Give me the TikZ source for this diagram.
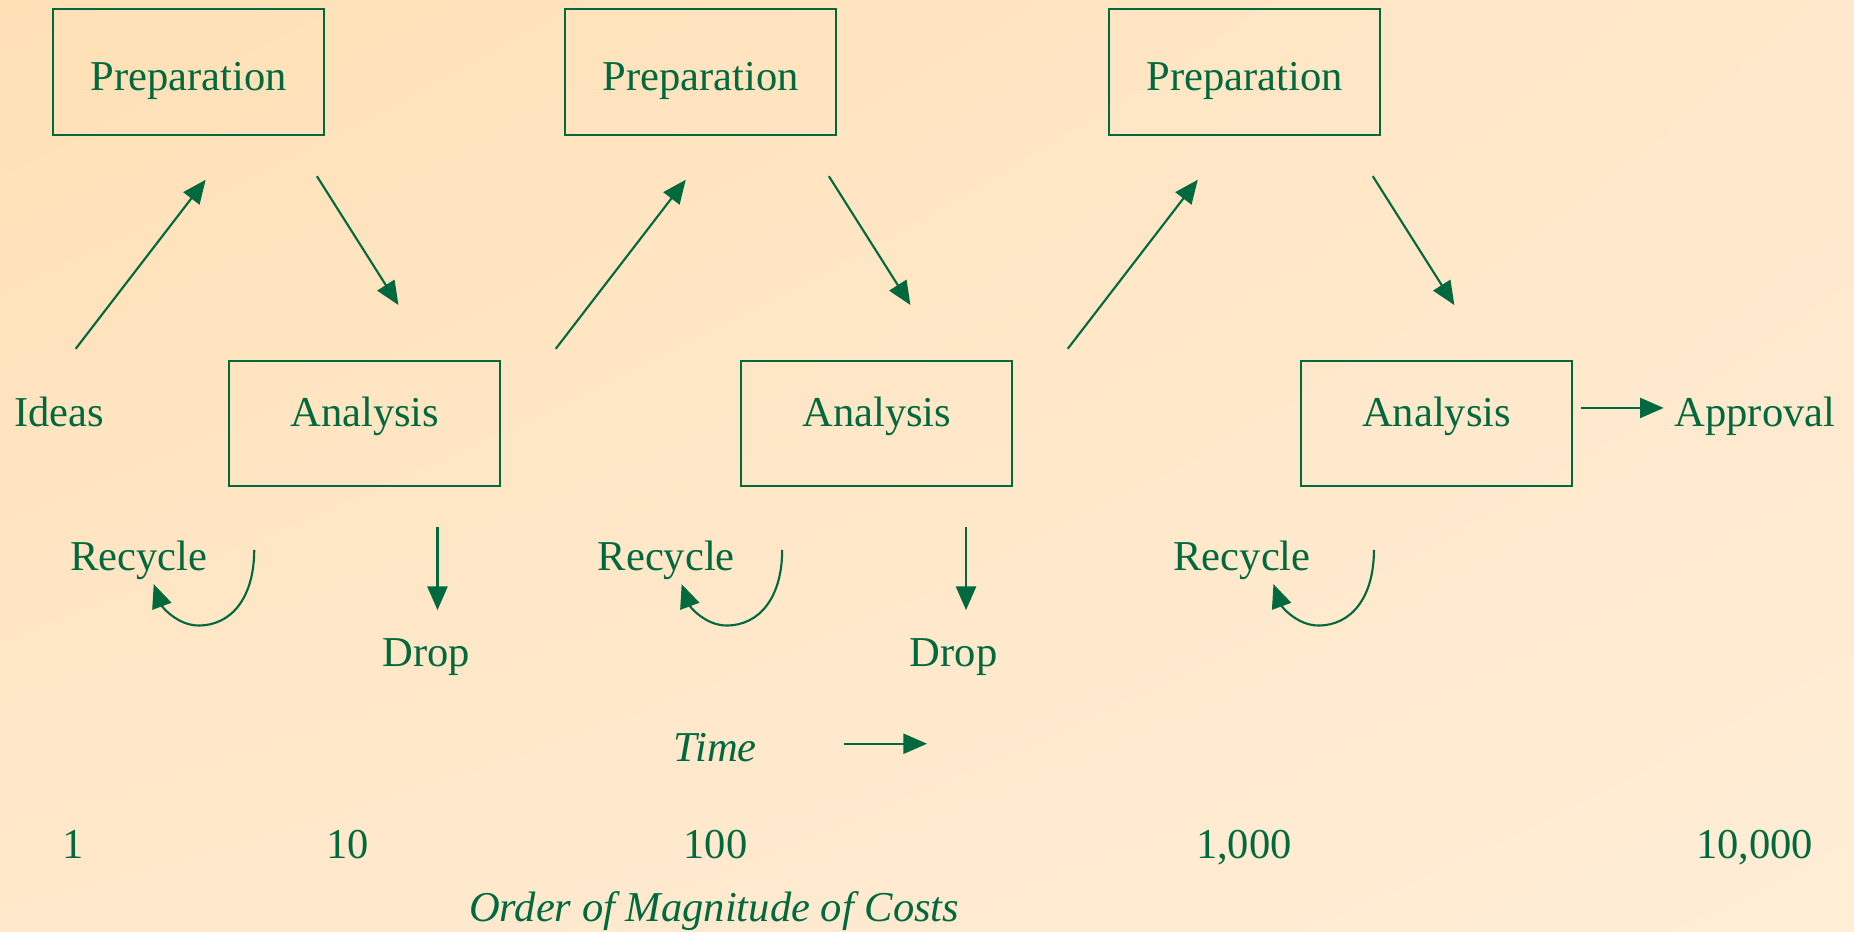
\documentclass[tikz,border=0pt]{standalone}
\usepackage{fontspec}
\setmainfont{Liberation Serif}
\usetikzlibrary{arrows.meta,shadings}
\definecolor{dg}{HTML}{00693E}
\definecolor{bgA}{HTML}{FFE0B5}
\definecolor{bgB}{HTML}{FFEDD6}
\definecolor{bgC}{HTML}{FFE8CB}
\begin{document}
\begin{tikzpicture}[x=1pt,y=-1pt,
  lbl/.style={text=dg, font=\fontsize{36}{40}\selectfont, inner sep=0pt, anchor=base},
  ilbl/.style={lbl, font=\fontsize{36}{40}\selectfont\itshape},
  boxbase/.style={draw=dg, line width=1.7pt, minimum width=229pt, minimum height=106pt, inner sep=0pt, text=dg, font=\fontsize{36}{40}\selectfont},
  prepbox/.style={boxbase, text height=31.4pt, text depth=0pt},
  anbox/.style={boxbase, text height=26pt, text depth=20pt},
  arr/.style={draw=dg, line width=1.8pt, -{Triangle[length=20pt,width=17pt]}},
]
\shade[upper left=bgA, lower right=bgB, upper right=bgC, lower left=bgC] (0pt,0pt) rectangle (1568pt,-788pt);
\useasboundingbox (0pt,0pt) rectangle (1568pt,-788pt);

% boxes
\node[prepbox] (p1) at (159.5,61) {Preparation};
\node[prepbox] (p2) at (592.5,61) {Preparation};
\node[prepbox] (p3) at (1052.5,61) {Preparation};
\node[anbox] (a1) at (308.5,358) {Analysis};
\node[anbox] (a2) at (741.5,358) {Analysis};
\node[anbox] (a3) at (1215,358) {Analysis};

% labels
\node[lbl, anchor=base west] (ideas) at (12,361) {Ideas};
\node[lbl, anchor=base west] (appr) at (1416,361) {Approval};
\node[lbl] (rc1) at (117.5,482.6) {Recycle};
\node[lbl] (rc2) at (563.5,482.6) {Recycle};
\node[lbl] (rc3) at (1050.5,482.6) {Recycle};
\node[lbl] (dr1) at (360.5,564) {Drop};
\node[lbl] (dr2) at (806.5,564) {Drop};
\node[ilbl] (time) at (605,644) {Time};
\node[lbl] (n1) at (62,726) {1};
\node[lbl] (n2) at (294,726) {10};
\node[lbl] (n3) at (605,726) {100};
\node[lbl] (n4) at (1052,726) {1,000};
\node[lbl] (n5) at (1484,726) {10,000};
\node[ilbl] (order) at (604,779.5) {Order of Magnitude of Costs};

% connector end points
\coordinate (u1s) at (64,295);   \coordinate (u1e) at (174,152);
\coordinate (u2s) at (470,295);  \coordinate (u2e) at (580,152);
\coordinate (u3s) at (903,295);  \coordinate (u3e) at (1013,152);
\coordinate (d1s) at (268,149);  \coordinate (d1e) at (337,258);
\coordinate (d2s) at (701,149);  \coordinate (d2e) at (770,258);
\coordinate (d3s) at (1161,149); \coordinate (d3e) at (1230,258);
\coordinate (ds1) at (370,446);  \coordinate (de1) at (370,516);
\coordinate (ds2) at (817,446);  \coordinate (de2) at (817,516);
\coordinate (aps) at (1337,345); \coordinate (ape) at (1407,345);
\coordinate (ts) at (714,629);   \coordinate (te) at (784,629);

\draw[arr] (u1s) -- (u1e);
\draw[arr] (u2s) -- (u2e);
\draw[arr] (u3s) -- (u3e);
\draw[arr] (d1s) -- (d1e);
\draw[arr] (d2s) -- (d2e);
\draw[arr] (d3s) -- (d3e);
\draw[arr] (ds1) -- (de1);
\draw[arr] (ds2) -- (de2);
\draw[arr] (aps) -- (ape);
\draw[arr] (ts) -- (te);

% recycle loops
\foreach \dx/\n in {0/1,446.5/2,947/3}{
  \coordinate (rs\n) at (215+\dx,465);
  \coordinate (rb\n) at (168+\dx,529);
  \coordinate (re\n) at (130+\dx,494);
  \draw[arr] (rs\n) .. controls (215+\dx,505) and (196+\dx,529) .. (rb\n)
             .. controls (150+\dx,529) and (137+\dx,513) .. (re\n);
}
\end{tikzpicture}
\end{document}
